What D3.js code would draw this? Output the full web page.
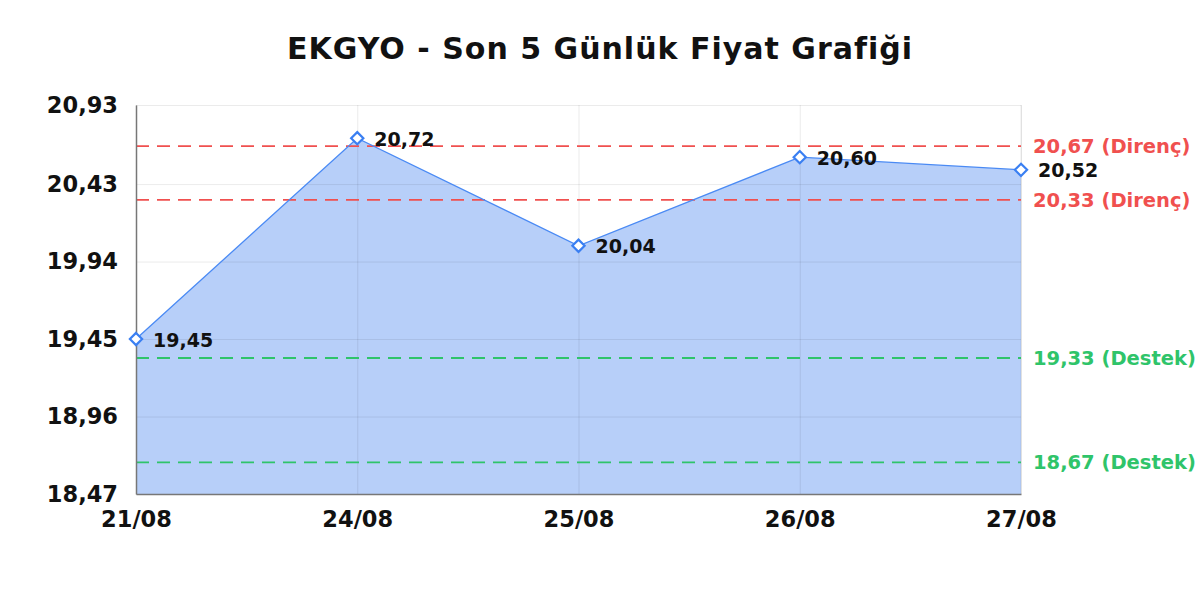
<!DOCTYPE html>
<html>
<head>
<meta charset="utf-8">
<script src="https://cdn.jsdelivr.net/npm/d3@7"></script>
<style>
  body { margin: 0; background: #fff; }
  text { font-family: "DejaVu Sans", sans-serif; font-weight: bold; }
</style>
</head>
<body>
<div id="chart"></div>
<script>
// veriler
let dates = ["21/08", "24/08", "25/08", "26/08", "27/08"];
let prices = [19.45, 20.72, 20.04, 20.60, 20.52];
let yTicks = [18.47, 18.96, 19.45, 19.94, 20.43, 20.93];
let resistance = [20.67, 20.33];
let support = [19.33, 18.67];

let width = 1200;
let height = 600;
let margin = {"top": 105, "bottom": 106, "right": 179, "left": 136};

let fmt = function(v) { return v.toFixed(2).replace(".", ","); };

let svg = d3.select("#chart")
  .append("svg")
  .attr("width", width)
  .attr("height", height);

// ölçekler
let xScale = d3.scalePoint()
  .domain(dates)
  .range([margin.left, width - margin.right]);

let yScale = d3.scaleLinear()
  .domain([d3.min(yTicks), d3.max(yTicks)])
  .range([height - margin.bottom, margin.top]);

// başlık
svg.append("text")
  .attr("x", 600)
  .attr("y", 59)
  .attr("text-anchor", "middle")
  .attr("font-size", "30px")
  .attr("letter-spacing", "1px")
  .attr("fill", "#111")
  .text("EKGYO - Son 5 Günlük Fiyat Grafiği");

// alan
let area = d3.area()
  .x(function(d, i) { return xScale(dates[i]); })
  .y0(yScale(d3.min(yTicks)))
  .y1(function(d) { return yScale(d); });

svg.append("path")
  .datum(prices)
  .attr("d", area)
  .attr("fill", "#b7cff9");

// ızgara
svg.append("g")
  .attr("transform", "translate(0," + (height - margin.bottom) + ")")
  .call(d3.axisBottom(xScale).tickSize(-(height - margin.top - margin.bottom)).tickFormat(""))
  .call(function(g) { g.select(".domain").remove(); })
  .selectAll("line")
  .attr("stroke", "rgba(0,0,0,0.08)");

svg.append("g")
  .attr("transform", "translate(" + margin.left + ",0)")
  .call(d3.axisLeft(yScale).tickValues(yTicks).tickSize(-(width - margin.left - margin.right)).tickFormat(""))
  .call(function(g) { g.select(".domain").remove(); })
  .selectAll("line")
  .attr("stroke", "rgba(0,0,0,0.08)");

// sağ kenar
svg.append("line")
  .attr("x1", width - margin.right).attr("x2", width - margin.right)
  .attr("y1", margin.top).attr("y2", height - margin.bottom)
  .attr("stroke", "rgba(0,0,0,0.08)");

// destek / direnç çizgileri
let levels = resistance.map(function(v) { return {v: v, t: "Direnç", c: "#f0504f"}; })
  .concat(support.map(function(v) { return {v: v, t: "Destek", c: "#2fc46a"}; }));

svg.append("g")
  .selectAll("line")
  .data(levels)
  .enter()
  .append("line")
  .attr("x1", margin.left)
  .attr("x2", width - margin.right)
  .attr("y1", function(d) { return yScale(d.v); })
  .attr("y2", function(d) { return yScale(d.v); })
  .attr("stroke", function(d) { return d.c; })
  .attr("stroke-width", 1.8)
  .attr("stroke-dasharray", "13,8");

svg.append("g")
  .selectAll("text")
  .data(levels)
  .enter()
  .append("text")
  .attr("x", width - margin.right + 12)
  .attr("y", function(d) { return yScale(d.v); })
  .attr("dy", "0.35em")
  .attr("font-size", "19.5px")
  .attr("fill", function(d) { return d.c; })
  .text(function(d) { return fmt(d.v) + " (" + d.t + ")"; });

// eksenler
let axisY = svg.append("g")
  .attr("transform", "translate(" + margin.left + ",0)")
  .call(d3.axisLeft(yScale).tickValues(yTicks).tickSize(0).tickPadding(18).tickFormat(fmt));
axisY.select(".domain").attr("stroke", "#777").attr("stroke-width", 1.5);
axisY.selectAll("text").attr("font-size", "22.5px").attr("fill", "#111").attr("font-family", null);

let axisX = svg.append("g")
  .attr("transform", "translate(0," + (height - margin.bottom) + ")")
  .call(d3.axisBottom(xScale).tickSize(0).tickPadding(17));
axisX.select(".domain").attr("stroke", "#777").attr("stroke-width", 1.5);
axisX.selectAll("text").attr("font-size", "22.5px").attr("fill", "#111").attr("font-family", null);

// çizgi
let line = d3.line()
  .x(function(d, i) { return xScale(dates[i]); })
  .y(function(d) { return yScale(d); });

svg.append("path")
  .datum(prices)
  .attr("d", line)
  .attr("fill", "none")
  .attr("stroke", "#4a8af4")
  .attr("stroke-width", 1.3);

// noktalar
svg.append("g")
  .selectAll("path")
  .data(prices)
  .enter()
  .append("path")
  .attr("d", d3.symbol().type(d3.symbolDiamond2).size(95))
  .attr("transform", function(d, i) { return "translate(" + xScale(dates[i]) + "," + yScale(d) + ")"; })
  .attr("fill", "#fff")
  .attr("stroke", "#3a7ff2")
  .attr("stroke-width", 2.2);

svg.append("g")
  .selectAll("text")
  .data(prices)
  .enter()
  .append("text")
  .attr("x", function(d, i) { return xScale(dates[i]) + 17; })
  .attr("y", function(d) { return yScale(d); })
  .attr("dy", "0.4em")
  .attr("font-size", "19px")
  .attr("fill", "#111")
  .text(fmt);
</script>
</body>
</html>
